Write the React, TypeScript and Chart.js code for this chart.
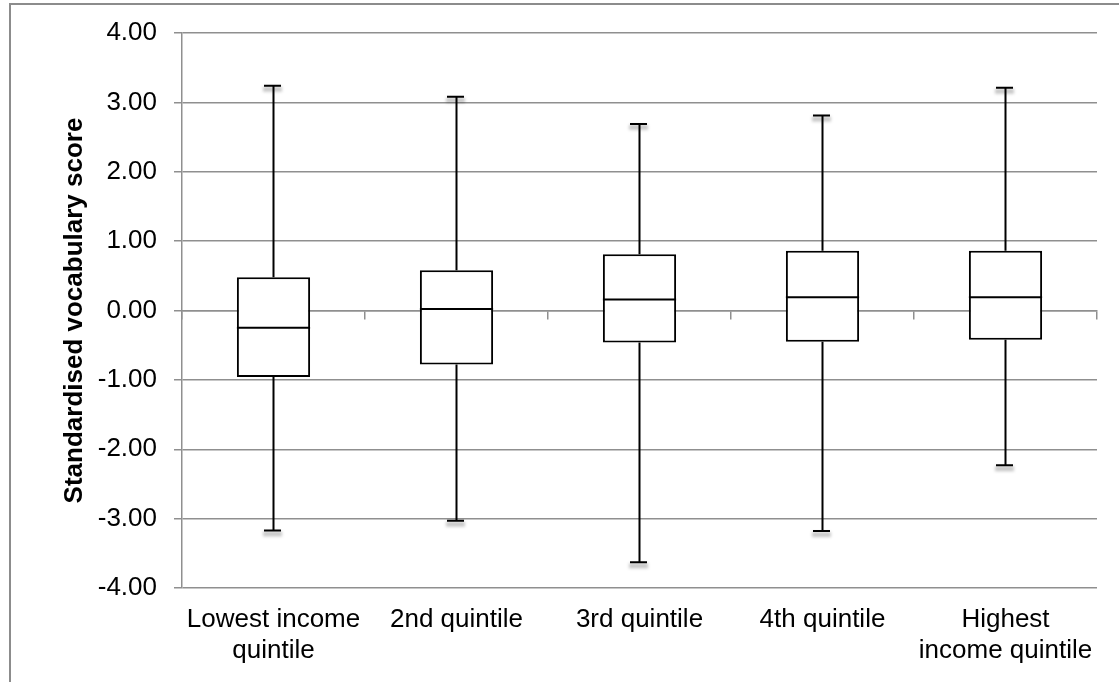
import React, { useEffect, useRef } from "react";
import { Chart, registerables } from "chart.js";

Chart.register(...registerables);

const categories: (string | string[])[] = [
  ["Lowest income", "quintile"],
  "2nd quintile",
  "3rd quintile",
  "4th quintile",
  ["Highest", "income quintile"],
];
const minValues = [-3.17, -3.03, -3.63, -3.18, -2.23];
const q1Values = [-0.96, -0.78, -0.46, -0.45, -0.42];
const medianValues = [-0.25, 0.02, 0.16, 0.19, 0.19];
const q3Values = [0.48, 0.58, 0.81, 0.86, 0.86];
const maxValues = [3.24, 3.08, 2.69, 2.81, 3.21];
const yTicks = [-4, -3, -2, -1, 0, 1, 2, 3, 4];

const GRID = "#8f8f8f";
const FONT = "'Liberation Sans', Arial, sans-serif";

const whiskerPlugin = {
  id: "whiskers",
  afterDatasetsDraw(chart: any) {
    const meta = chart.getDatasetMeta(0);
    const y = chart.scales.y;
    const ctx = chart.ctx;
    ctx.save();
    meta.data.forEach((el: any, i: number) => {
      const x = el.x;
      const half = el.width / 2;
      const yMin = y.getPixelForValue(minValues[i]);
      const yQ1 = y.getPixelForValue(q1Values[i]);
      const yMed = y.getPixelForValue(medianValues[i]);
      const yQ3 = y.getPixelForValue(q3Values[i]);
      const yMax = y.getPixelForValue(maxValues[i]);
      const capHalf = 8.5;
      const cx = x - 1;
      // cap shadows
      ctx.save();
      ctx.filter = "blur(1.5px)";
      ctx.fillStyle = "rgba(0,0,0,0.22)";
      ctx.fillRect(cx - capHalf - 1, yMax + 1, capHalf * 2 + 2, 5);
      ctx.fillRect(cx - capHalf - 1, yMin + 1, capHalf * 2 + 2, 5);
      ctx.restore();
      ctx.strokeStyle = "#000";
      ctx.lineWidth = 2;
      ctx.beginPath();
      // upper whisker
      ctx.moveTo(x, yQ3);
      ctx.lineTo(x, yMax);
      // lower whisker
      ctx.moveTo(x, yQ1);
      ctx.lineTo(x, yMin);
      // caps
      ctx.moveTo(cx - capHalf, yMax);
      ctx.lineTo(cx + capHalf, yMax);
      ctx.moveTo(cx - capHalf, yMin);
      ctx.lineTo(cx + capHalf, yMin);
      // median
      ctx.moveTo(x - half, yMed);
      ctx.lineTo(x + half, yMed);
      ctx.stroke();
    });
    ctx.restore();
  },
};

export default function App() {
  const ref = useRef<HTMLCanvasElement | null>(null);
  useEffect(() => {
    if (!ref.current) return;
    const chart = new Chart(ref.current, {
      type: "bar",
      data: {
        labels: categories as any,
        datasets: [
          {
            label: "IQR",
            data: q1Values.map((q, i) => [q, q3Values[i]]) as any,
            backgroundColor: "#ffffff",
            borderColor: "#000000",
            borderWidth: 2,
            borderSkipped: false,
            barPercentage: 0.4,
            categoryPercentage: 1,
          },
        ],
      },
      options: {
        animation: false,
        responsive: false,
        devicePixelRatio: 1,
        layout: { padding: { left: 0, top: 33, right: 22, bottom: 0 } },
        plugins: {
          legend: { display: false },
          tooltip: { enabled: false },
        },
        scales: {
          x: {
            type: "category",
            offset: true,
            grid: { display: false, drawTicks: false },
            border: { display: false },
            ticks: {
              color: "#000",
              padding: 16,
              maxRotation: 0,
              autoSkip: false,
              font: { family: FONT, size: 26, lineHeight: 1.19 },
            },
            afterFit: (s: any) => {
              s.height = 94;
            },
          },
          x2: {
            type: "category",
            position: { y: 0 } as any,
            offset: true,
            z: 1,
            grid: {
              display: true,
              offset: true,
              drawOnChartArea: false,
              drawTicks: true,
              tickLength: 8,
              color: GRID,
              lineWidth: 1.5,
            },
            border: { display: true, color: GRID, width: 1.5 },
            ticks: { display: false },
          },
          y: {
            min: -4,
            max: 4,
            afterBuildTicks: (s: any) => {
              s.ticks = yTicks.map((v) => ({ value: v }));
            },
            grid: {
              color: GRID,
              lineWidth: 1.5,
              tickLength: 8,
              drawTicks: true,
            },
            border: { display: true, color: GRID, width: 1.5 },
            ticks: {
              color: "#000",
              padding: 17,
              font: { family: FONT, size: 26 },
              callback: (v: any) => Number(v).toFixed(2),
            },
            title: {
              display: true,
              text: "Standardised vocabulary score",
              color: "#000",
              font: { family: FONT, size: 26, weight: "bold", lineHeight: 1.2 },
              padding: { top: 59, bottom: 0 },
            },
            afterFit: (s: any) => {
              s.width = 182;
            },
          },
        },
      },
      plugins: [whiskerPlugin],
    });
    return () => chart.destroy();
  }, []);

  return (
    <div
      style={{
        position: "fixed",
        left: 0,
        top: 0,
        width: 1119,
        height: 682,
        background: "#fff",
        overflow: "hidden",
      }}
    >
      <div
        style={{
          position: "absolute",
          left: 9,
          top: 3,
          width: 1119,
          height: 700,
          borderLeft: "2px solid #8c8c8c",
          borderTop: "2px solid #8c8c8c",
          boxSizing: "border-box",
        }}
      />
      <canvas
        ref={ref}
        width={1119}
        height={682}
        style={{ position: "absolute", left: 0, top: 0, width: 1119, height: 682 }}
      />
    </div>
  );
}
